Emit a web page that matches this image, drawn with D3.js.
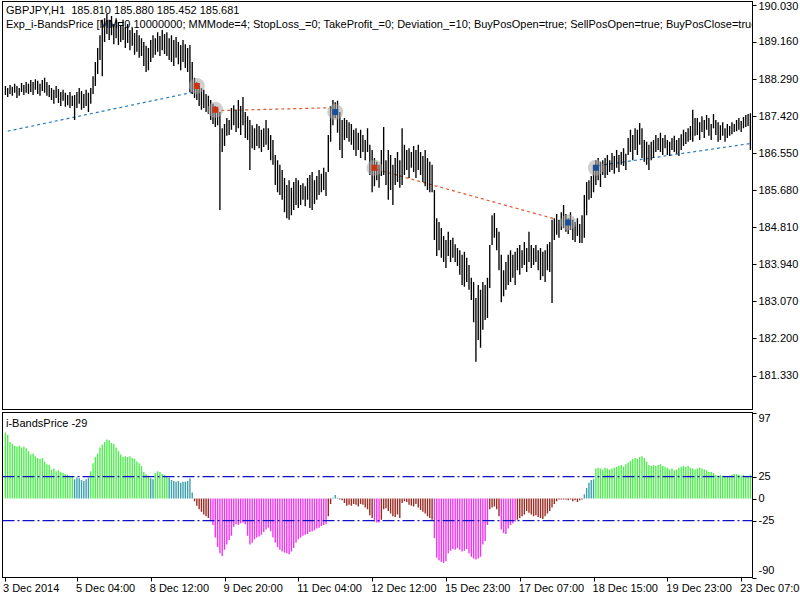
<!DOCTYPE html>
<html><head><meta charset="utf-8">
<script src="https://cdn.jsdelivr.net/npm/d3@7"></script>
<style>
body{margin:0;background:#fff}
svg{display:block}
text{font-family:"Liberation Sans",Arial,sans-serif;font-size:11px;fill:#000}
</style>
</head><body><svg id="c" width="800" height="600"></svg>
<script>
// ---- data (GBPJPY H1, one entry per bar) ----
const high = [
188.12,188.07,188.14,188.10,188.17,188.12,188.07,188.19,188.14,188.21,
188.17,188.26,188.21,188.28,188.24,188.17,188.26,188.31,188.21,188.14,
188.07,188.03,188.12,188.05,187.98,188.03,187.96,187.91,187.98,187.89,
187.91,187.98,188.07,188.00,187.93,188.03,187.96,188.07,188.35,188.68,
189.01,189.31,189.67,189.71,189.81,189.67,189.76,189.57,189.71,189.62,
189.55,189.67,189.50,189.57,189.43,189.48,189.36,189.43,189.31,189.24,
189.15,189.06,189.01,189.20,189.31,189.24,189.38,189.29,189.43,189.34,
189.38,189.24,189.31,189.20,189.27,189.15,189.08,189.20,189.10,189.01,
189.08,188.68,188.31,188.21,188.12,188.07,188.03,187.93,187.89,187.79,
187.70,187.65,187.60,187.51,187.13,187.23,187.37,187.32,187.60,187.67,
187.56,187.79,187.65,187.86,187.51,187.41,187.32,187.20,187.13,187.23,
187.18,187.09,187.13,187.32,187.13,186.97,186.85,186.50,186.38,186.27,
186.15,185.96,185.80,185.91,185.73,185.87,185.96,185.91,185.80,185.84,
185.77,185.96,186.03,186.10,185.91,186.01,186.15,186.06,186.20,186.10,
186.97,187.65,187.79,187.74,187.77,187.51,187.32,187.37,187.32,187.27,
187.23,187.09,187.13,187.02,187.09,186.97,186.85,187.13,186.74,186.62,
186.43,186.34,186.27,186.62,187.16,186.38,186.62,186.50,186.27,186.43,
186.57,186.38,187.13,186.74,186.62,186.66,186.57,186.71,186.62,186.74,
186.57,186.48,186.62,186.43,186.34,186.27,185.68,185.02,184.93,184.79,
184.60,184.51,184.70,184.51,184.56,184.41,184.32,184.27,184.16,184.23,
184.09,183.92,183.62,183.52,183.15,183.45,183.34,183.52,183.45,183.62,
184.39,185.09,185.14,184.79,184.70,184.16,183.80,183.99,184.16,184.27,
184.16,184.23,184.32,184.39,184.27,184.46,184.32,184.70,184.39,184.32,
184.39,184.27,184.32,184.23,184.27,184.41,184.46,184.98,185.02,185.12,
184.98,185.16,185.33,185.12,185.02,185.16,184.98,184.93,185.02,184.88,
185.09,185.56,185.87,185.91,186.01,186.15,186.38,186.43,186.34,186.38,
186.43,186.50,186.38,186.55,186.48,186.62,186.50,186.57,186.66,186.53,
186.90,187.09,186.97,187.13,187.09,187.25,187.13,186.85,186.81,186.74,
186.81,186.85,186.97,186.90,187.02,186.90,186.97,186.85,186.81,186.90,
186.95,186.85,186.90,186.99,187.09,187.04,187.13,187.18,187.56,187.37,
187.37,187.27,187.41,187.32,187.44,187.37,187.23,187.46,187.32,187.27,
187.20,187.27,187.13,187.23,187.18,187.27,187.23,187.32,187.37,187.30,
187.39,187.44,187.46,187.48];
const low = [
187.91,187.86,187.93,187.89,187.96,187.84,187.89,187.98,187.91,187.96,
187.93,187.98,187.91,188.03,187.93,187.89,188.00,187.96,187.89,187.86,
187.79,187.70,187.84,187.72,187.65,187.77,187.63,187.67,187.60,187.65,
187.32,187.60,187.70,187.56,187.60,187.65,187.51,187.70,187.93,188.12,
188.40,188.73,188.35,189.15,189.34,189.20,189.31,189.10,189.24,189.08,
189.15,189.20,189.01,189.13,188.96,189.06,188.85,188.92,188.78,188.82,
188.59,188.45,188.49,188.68,188.78,188.85,188.92,188.82,188.96,188.87,
188.82,188.73,188.68,188.59,188.78,188.63,188.49,188.68,188.54,188.45,
187.98,187.93,187.84,187.79,187.65,187.56,187.60,187.51,187.46,187.32,
187.23,187.16,187.20,185.21,186.57,186.71,186.95,186.97,187.09,187.20,
187.04,187.13,186.97,187.20,186.90,186.85,186.15,186.66,186.62,186.71,
186.66,186.57,186.69,186.74,186.62,186.38,186.27,185.80,185.63,185.56,
185.45,185.16,185.02,184.98,185.09,185.21,185.33,185.26,185.33,185.45,
185.30,185.45,185.26,185.21,185.35,185.45,185.56,185.63,185.68,185.54,
186.10,186.81,187.20,187.37,187.02,186.62,186.43,186.85,186.90,186.81,
186.74,186.62,186.48,186.62,186.43,186.57,186.38,186.57,186.03,185.63,
185.77,185.91,185.73,186.01,186.03,185.80,185.45,185.68,185.33,185.80,
185.87,185.73,185.80,186.03,186.15,185.96,186.20,186.10,185.96,186.15,
186.03,185.87,185.77,185.68,185.63,185.63,184.51,184.13,184.27,184.09,
183.99,183.85,184.13,183.99,184.09,183.99,183.90,183.69,183.45,183.41,
183.52,183.34,183.10,182.58,181.65,182.16,181.98,182.40,182.63,182.68,
183.38,184.39,184.56,184.27,183.80,183.05,183.19,183.34,183.45,183.52,
183.62,183.45,183.80,183.69,183.85,183.92,183.76,183.99,183.85,183.92,
183.99,183.80,183.57,183.66,183.52,183.80,183.76,183.03,184.51,184.63,
184.56,184.74,184.79,184.70,184.65,184.74,184.51,184.46,184.60,184.44,
184.44,184.56,185.09,185.45,185.49,185.63,185.80,185.91,185.75,186.03,
185.96,186.03,186.10,186.15,186.06,186.20,186.10,186.27,186.24,186.15,
186.50,186.57,186.38,186.62,186.50,186.74,186.43,186.34,186.27,186.15,
186.38,186.43,186.57,186.62,186.57,186.50,186.66,186.50,186.48,186.62,
186.57,186.53,186.48,186.62,186.71,186.76,186.81,186.85,186.81,186.95,
186.97,186.85,187.04,186.90,187.09,186.95,186.85,187.13,186.97,186.81,
186.85,186.95,186.81,186.90,186.95,186.99,187.04,187.06,187.09,187.04,
187.13,187.16,187.18,186.62];
// i-BandsPrice oscillator, one value per bar
const osc = [
75,72,64,62,60,59,60,58,59,57,
54,50,51,48,46,45,46,42,39,38,
33,34,31,32,30,29,28,27,26,26,
22,24,23,21,20,22,24,31,40,47,
51,58,61,64,67,66,63,62,58,54,
50,47,48,47,48,46,45,42,40,37,
30,28,26,23,22,29,31,30,28,27,
25,24,21,20,19,20,18,19,19,20,
23,7,-3,-8,-12,-15,-18,-20,-22,-26,
-30,-44,-55,-62,-65,-58,-52,-47,-42,-32,
-29,-30,-28,-27,-29,-42,-52,-50,-46,-44,
-43,-41,-38,-35,-33,-37,-44,-50,-55,-58,
-60,-61,-62,-63,-60,-56,-50,-46,-44,-42,
-41,-40,-38,-37,-36,-34,-33,-31,-30,-29,
-20,-6,1,4,1,-1,-2,-5,-8,-7,
-8,-6,-7,-9,-6,-7,-10,-12,-19,-22,
-26,-27,-27,-24,-12,-11,-14,-17,-20,-21,
-18,-22,-5,-3,-4,-7,-8,-9,-6,-10,
-13,-15,-17,-20,-22,-24,-45,-67,-70,-72,
-73,-71,-62,-59,-57,-58,-56,-58,-60,-59,
-57,-62,-66,-68,-69,-68,-66,-52,-48,-30,
-12,-10,-9,-12,-20,-35,-39,-40,-34,-30,
-28,-26,-24,-22,-20,-18,-14,-16,-18,-20,
-19,-21,-22,-23,-20,-17,-14,-10,-6,-3,
-1,-1,-1,-1,-2,-1,-3,-2,-4,-2,
-1,5,12,18,21,22,34,35,34,33,
35,34,33,34,35,36,37,38,36,39,
41,43,45,46,45,47,48,46,42,38,
37,38,37,38,39,37,36,35,33,34,
32,33,35,36,37,36,37,35,34,33,
34,35,34,33,32,30,30,29,27,26,
27,26,25,25,26,27,28,28,27,26,
27,26,25,27];

const timeTickIdx = [0,31,63,95,127,159,191,223,255,287,319];
const timeTickLabels = ["3 Dec 2014","5 Dec 04:00","8 Dec 12:00","9 Dec 20:00","11 Dec 04:00","12 Dec 12:00","15 Dec 23:00","17 Dec 07:00","18 Dec 15:00","19 Dec 23:00","23 Dec 07:00"];
const priceTicks = [190.03,189.16,188.29,187.42,186.55,185.68,184.81,183.94,183.07,182.20,181.33];
const oscTicks = [97,25,0,-25,-90];
const oscLevels = [25,-25];

// trade deals (bar index, price, side)
const tradeIdx = [83,91,143,160,244,256];
const tradePrice = [188.12,187.56,187.51,186.20,184.92,186.20];
const tradeSide = ["sell","sell","buy","sell","buy","buy"];
// position lines
const posFromIdx = [1,91,161,257];
const posFromPrice = [187.06,187.54,186.16,186.25];
const posToIdx = [82,142,239,323];
const posToPrice = [187.98,187.61,184.99,186.77];
const posSide = ["buy","sell","sell","buy"];

const header1 = "GBPJPY,H1  185.810 185.880 185.452 185.681";
const header2 = "Exp_i-BandsPrice [MM=0.10000000; MMMode=4; StopLoss_=0; TakeProfit_=0; Deviation_=10; BuyPosOpen=true; SellPosOpen=true; BuyPosClose=true; SellPosClose=true]";
const subTitle = "i-BandsPrice -29";

// ---- layout ----
const L = 2.5, R = 752.5;
const mainTop = 1.5, mainBot = 409.5;
const subTop = 412.5, subBot = 577.5;

const svg = d3.select("#c");
const x = d3.scaleLinear().domain([0, 323]).range([5.4, 750.4]);
const y = d3.scaleLinear().domain([190.03, 181.33]).range([4.5, 375.5]);
const ys = d3.scaleLinear().domain([-90, 97]).range([578, 413]);

const defs = svg.append("defs");
defs.append("clipPath").attr("id","cm").append("rect")
  .attr("x", L).attr("y", mainTop).attr("width", R - L).attr("height", mainBot - mainTop);
defs.append("clipPath").attr("id","cs").append("rect")
  .attr("x", L).attr("y", subTop).attr("width", R - L).attr("height", subBot - subTop);

// main window
const gm = svg.append("g").attr("clip-path","url(#cm)");
gm.append("text").attr("x",6).attr("y",14).style("white-space","pre").text(header1);
gm.append("text").attr("x",6).attr("y",28).style("white-space","pre").text(header2);

// position lines
const sideColor = {buy:"#2b7cc0", sell:"#e0562e"};
gm.selectAll("line.pos").data(posSide).join("line").attr("class","pos")
  .attr("x1",(d,i)=>x(posFromIdx[i])).attr("y1",(d,i)=>y(posFromPrice[i]))
  .attr("x2",(d,i)=>x(posToIdx[i])).attr("y2",(d,i)=>y(posToPrice[i]))
  .attr("stroke", d=>sideColor[d]).attr("stroke-width",1.2).attr("stroke-dasharray","3,3");

// bars
gm.selectAll("line.bar").data(high).join("line").attr("class","bar")
  .attr("x1",(d,i)=>x(i)).attr("x2",(d,i)=>x(i))
  .attr("y1",d=>y(d)).attr("y2",(d,i)=>y(low[i]))
  .attr("stroke","#000").attr("stroke-width",1.35);

// trade markers
const mk = gm.selectAll("g.mk").data(tradeSide).join("g").attr("class","mk")
  .attr("transform",(d,i)=>`translate(${x(tradeIdx[i])},${y(tradePrice[i])})`);
mk.append("circle").attr("r",8).attr("fill","#a8a8a8").attr("fill-opacity",0.55);
mk.append("path").attr("d","M-3,-3 L3,-3 L3,3 L-3,3 Z")
  .attr("fill", d=> d==="sell" ? "#cc3311" : "#1a4f96");

// sub window
const gs = svg.append("g").attr("clip-path","url(#cs)");
gs.append("text").attr("x",6).attr("y",427).text(subTitle);
function oscColor(v){
  if (v >= 25) return "#4cef4c";
  if (v >= 0) return "#3d9fae";
  if (v > -25) return "#9b2a22";
  return "#ef35ef";
}
gs.selectAll("line.h").data(osc).join("line").attr("class","h")
  .attr("x1",(d,i)=>x(i)).attr("x2",(d,i)=>x(i))
  .attr("y1",ys(0)).attr("y2",d=>ys(d))
  .attr("stroke",d=>oscColor(d)).attr("stroke-width",1.4);
gs.selectAll("line.lv").data(oscLevels).join("line").attr("class","lv")
  .attr("x1",L).attr("x2",R).attr("y1",d=>ys(d)).attr("y2",d=>ys(d))
  .attr("stroke","#1010c8").attr("stroke-width",1.2).attr("stroke-dasharray","12,3,2,3");

// frames
svg.append("rect").attr("x",L).attr("y",mainTop).attr("width",R-L).attr("height",mainBot-mainTop)
  .attr("fill","none").attr("stroke","#000");
svg.append("rect").attr("x",L).attr("y",subTop).attr("width",R-L).attr("height",subBot-subTop)
  .attr("fill","none").attr("stroke","#000");

// price axis
const pa = svg.append("g");
pa.selectAll("line").data(priceTicks).join("line")
  .attr("x1",R).attr("x2",R+4).attr("y1",d=>Math.round(y(d))+0.5).attr("y2",d=>Math.round(y(d))+0.5).attr("stroke","#000");
pa.selectAll("text").data(priceTicks).join("text")
  .attr("x",R+6).attr("y",d=>Math.max(y(d), 6)).attr("dy","0.35em").text(d=>d.toFixed(3));

// osc axis
const oa = svg.append("g");
oa.selectAll("line").data(oscTicks).join("line")
  .attr("x1",R).attr("x2",R+4).attr("y1",d=>Math.round(ys(d))+0.5).attr("y2",d=>Math.round(ys(d))+0.5).attr("stroke","#000");
oa.selectAll("text").data(oscTicks).join("text")
  .attr("x",R+6).attr("y",d=>Math.min(Math.max(ys(d), subTop+6), subBot-7)).attr("dy","0.35em").text(d=>d);

// time axis
const ta = svg.append("g");
ta.selectAll("line").data(timeTickIdx).join("line")
  .attr("x1",d=>Math.round(x(d))+0.5).attr("x2",d=>Math.round(x(d))+0.5)
  .attr("y1",subBot).attr("y2",subBot+4).attr("stroke","#000");
ta.selectAll("text").data(timeTickIdx).join("text")
  .attr("x",(d,i)=> i===0 ? L+0.5 : x(d)-1).attr("y",592).text((d,i)=>timeTickLabels[i]);
</script>
</body></html>
